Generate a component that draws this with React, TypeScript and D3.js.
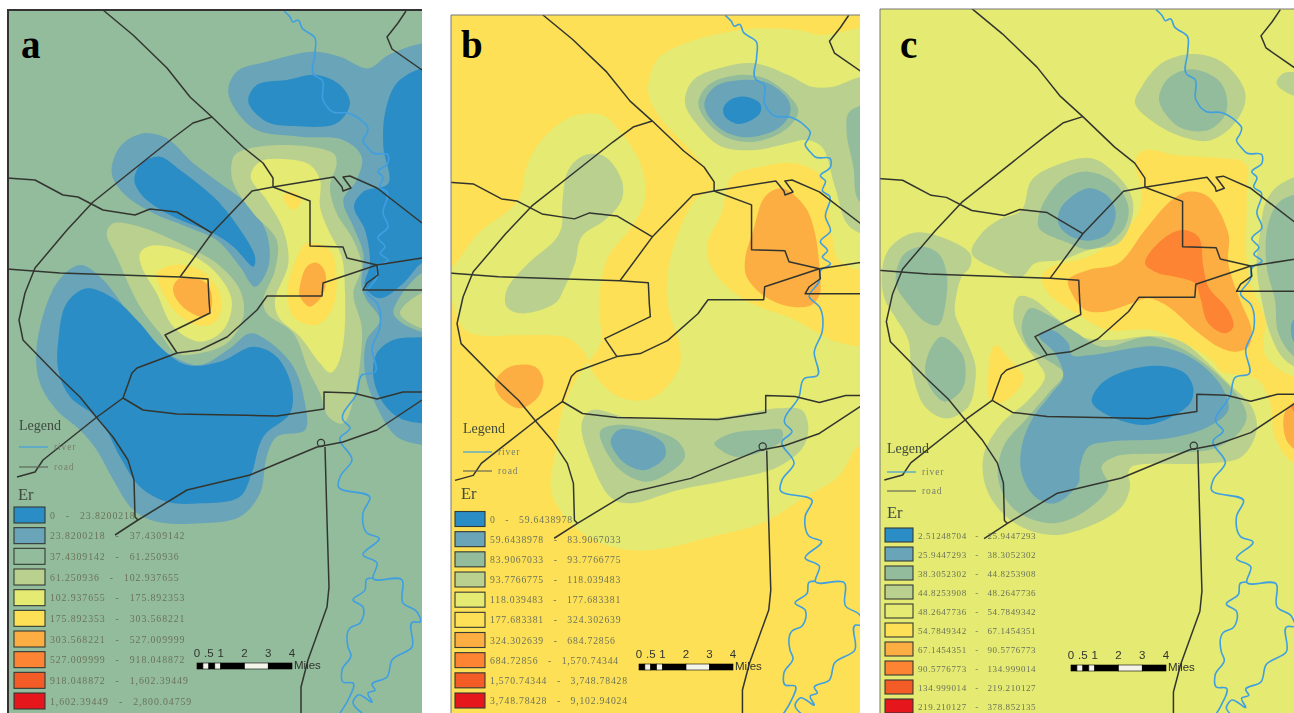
import * as d3 from "d3";

type Pt = [number, number];
type Region = [number, Pt[]];

const WIDTH = 1294;
const HEIGHT = 713;

const BAND_COLORS = ["#2a8dc6", "#69a4b9", "#93bc9d", "#bad08f", "#e4ea72", "#fde056", "#fcae42", "#fd8431", "#f35c26", "#e5121c"];
const SCALE_STOPS = [0, 0.25, 0.5, 0.75, 1, 2, 3, 4];
const SCALE_LABELS = [0, 0.5, 1, 2, 3, 4];

const labelsA = [
  ["0", "23.8200218"],
  ["23.8200218", "37.4309142"],
  ["37.4309142", "61.250936"],
  ["61.250936", "102.937655"],
  ["102.937655", "175.892353"],
  ["175.892353", "303.568221"],
  ["303.568221", "527.009999"],
  ["527.009999", "918.048872"],
  ["918.048872", "1,602.39449"],
  ["1,602.39449", "2,800.04759"],
];
const labelsB = [
  ["0", "59.6438978"],
  ["59.6438978", "83.9067033"],
  ["83.9067033", "93.7766775"],
  ["93.7766775", "118.039483"],
  ["118.039483", "177.683381"],
  ["177.683381", "324.302639"],
  ["324.302639", "684.72856"],
  ["684.72856", "1,570.74344"],
  ["1,570.74344", "3,748.78428"],
  ["3,748.78428", "9,102.94024"],
];
const labelsC = [
  ["2.51248704", "25.9447293"],
  ["25.9447293", "38.3052302"],
  ["38.3052302", "44.8253908"],
  ["44.8253908", "48.2647736"],
  ["48.2647736", "54.7849342"],
  ["54.7849342", "67.1454351"],
  ["67.1454351", "90.5776773"],
  ["90.5776773", "134.999014"],
  ["134.999014", "219.210127"],
  ["219.210127", "378.852135"],
];

// roads and river, in the units of the first panel
const roads: Pt[][] = [
  [[103, 10], [133, 35], [167, 68], [190, 97], [212, 117], [243, 147], [263, 163], [273, 178], [273, 187]],
  [[212, 117], [193, 123], [173, 138], [143, 162], [93, 202], [67, 230], [35, 268], [25, 293], [19, 320], [23, 340], [57, 375], [80, 397], [97, 418], [113, 437], [128, 460], [134, 480], [135, 517], [138, 520]],
  [[7, 178], [35, 180], [63, 195], [78, 197], [103, 210], [135, 215], [150, 209], [177, 212], [212, 233]],
  [[7, 269], [60, 273], [180, 277], [208, 279], [209, 300], [210, 313], [165, 335], [177, 353]],
  [[180, 277], [212, 233], [252, 191], [273, 187], [334, 177], [342, 187], [343, 191], [351, 188], [343, 177], [350, 176], [377, 188], [422, 223]],
  [[273, 187], [310, 201], [310, 246], [343, 247], [347, 258], [377, 265], [422, 258]],
  [[377, 265], [323, 283], [322, 296], [267, 296], [257, 310], [227, 337], [200, 350], [177, 353], [137, 368], [132, 373], [123, 398], [97, 417], [43, 460], [35, 472], [17, 477]],
  [[123, 398], [143, 410], [177, 414], [277, 416], [324, 409], [324, 392], [353, 393], [377, 399], [403, 392], [422, 392]],
  [[115, 535], [138, 520], [187, 490], [250, 475], [317, 447], [343, 442], [377, 430], [422, 400]],
  [[325, 447], [327, 520], [329, 587], [327, 607], [308, 660], [301, 687], [301, 713]],
  [[406, 11], [398, 23], [387, 37], [392, 49], [422, 70]],
  [[377, 265], [378, 275], [367, 283], [363, 290], [422, 290]],
];
const roundabout: Pt = [321, 443];

const river: Pt[][] = [
  [[284, 11], [290, 17], [293, 22], [298, 20], [302, 28], [315, 38], [315, 53], [314, 75], [322, 80], [323, 100], [333, 112], [348, 113], [363, 122], [368, 128], [366, 135], [363, 140], [368, 148], [373, 153], [388, 155], [388, 163], [378, 172], [383, 177], [380, 187], [387, 192], [383, 213], [388, 227], [378, 238], [385, 247], [380, 253], [388, 260], [378, 267], [377, 277], [367, 293], [377, 303], [380, 327], [372, 348], [375, 372], [362, 375], [357, 393], [343, 420], [350, 428], [340, 438], [352, 460], [340, 477], [338, 485], [370, 498], [363, 513], [367, 533], [379, 538], [363, 555], [377, 563], [373, 578], [402, 580], [403, 603], [417, 612], [420, 622], [413, 622], [412, 647], [392, 660], [387, 677], [372, 685], [375, 690], [368, 693], [372, 702], [358, 695], [353, 702], [362, 713]],
  [[373, 578], [367, 579], [365, 590], [353, 600], [363, 607], [360, 623], [350, 628], [348, 647], [351, 655], [342, 670], [343, 682], [353, 683], [348, 700], [340, 713]],
];

const regionsA: Region[] = [
  [1, [[685, 280], [710, 215], [800, 185], [940, 155], [1020, 170], [1105, 205], [1165, 165], [1265, 130], [1310, 125], [1310, 1345], [1265, 1335], [1190, 1310], [1130, 1220], [1095, 1120], [1100, 1020], [1140, 960], [1100, 900], [1085, 860], [1090, 760], [1060, 680], [1030, 600], [1070, 540], [1085, 470], [1030, 420], [900, 410], [760, 385]]],
  [2, [[1310, 820], [1265, 820], [1180, 935], [1200, 965], [1265, 995], [1310, 1000]]],
  [3, [[1310, 880], [1265, 880], [1200, 940], [1265, 985], [1310, 985]]],
  [1, [[335, 520], [360, 440], [430, 400], [500, 415], [580, 490], [660, 550], [750, 620], [800, 700], [805, 800], [765, 860], [720, 800], [650, 720], [560, 680], [460, 640], [370, 580]]],
  [1, [[110, 1040], [120, 1150], [170, 1230], [240, 1290], [290, 1350], [340, 1440], [400, 1530], [470, 1565], [600, 1570], [720, 1550], [780, 1480], [800, 1370], [830, 1310], [915, 1290], [915, 1210], [880, 1100], [800, 1020], [750, 1000], [690, 1045], [600, 1095], [520, 1070], [440, 1010], [380, 930], [300, 830], [240, 795], [170, 850]]],
  [0, [[745, 305], [770, 255], [860, 240], [950, 225], [1020, 255], [1050, 310], [1010, 370], [880, 378], [800, 365]]],
  [0, [[403, 540], [425, 490], [480, 470], [540, 510], [640, 590], [700, 660], [765, 770], [760, 800], [700, 740], [640, 700], [520, 650], [430, 590]]],
  [0, [[175, 1020], [200, 910], [260, 865], [340, 895], [420, 970], [480, 1040], [560, 1095], [660, 1085], [760, 1040], [830, 1070], [875, 1160], [870, 1240], [790, 1310], [755, 1420], [720, 1490], [600, 1510], [500, 1505], [420, 1460], [360, 1370], [300, 1260], [210, 1190], [175, 1110]]],
  [0, [[1310, 205], [1265, 205], [1190, 250], [1155, 340], [1150, 440], [1165, 550], [1090, 575], [1062, 620], [1095, 690], [1110, 790], [1095, 860], [1140, 895], [1210, 850], [1265, 790], [1310, 780]]],
  [0, [[1310, 1012], [1265, 1012], [1180, 1020], [1130, 1060], [1120, 1130], [1150, 1210], [1200, 1255], [1265, 1270], [1310, 1270]]],
  [3, [[320, 700], [340, 670], [420, 680], [560, 740], [650, 790], [720, 870], [730, 950], [680, 1030], [600, 1060], [530, 1060], [480, 1000], [420, 920], [350, 770]]],
  [3, [[695, 490], [710, 460], [840, 435], [1000, 460], [1010, 490], [990, 560], [1010, 640], [1060, 720], [1085, 800], [1060, 880], [1085, 980], [1080, 1090], [1065, 1180], [1030, 1270], [985, 1250], [960, 1180], [925, 1110], [880, 1000], [800, 940], [790, 900], [825, 810], [830, 720], [760, 640], [700, 550]]],
  [4, [[420, 760], [450, 738], [540, 750], [640, 810], [695, 900], [670, 990], [600, 1025], [520, 980], [470, 880], [425, 800]]],
  [4, [[752, 530], [780, 485], [860, 478], [930, 495], [960, 540], [960, 620], [985, 690], [1025, 770], [1035, 880], [1030, 1030], [1010, 1100], [990, 1118], [960, 1090], [900, 1010], [835, 950], [825, 900], [865, 790], [850, 690], [800, 600]]],
  [5, [[850, 590], [880, 575], [905, 600], [880, 630]]],
  [5, [[470, 820], [520, 795], [600, 810], [650, 860], [665, 920], [640, 970], [590, 975], [530, 940], [490, 880]]],
  [5, [[862, 870], [880, 800], [920, 730], [990, 750], [1010, 830], [995, 930], [950, 975], [880, 950]]],
  [6, [[520, 860], [540, 835], [620, 850], [635, 920], [610, 950], [560, 930], [525, 890]]],
  [6, [[898, 870], [920, 800], [950, 788], [975, 815], [970, 880], [930, 920], [900, 890]]],
];

const regionsB: Region[] = [
  [4, [[612, 240], [640, 175], [720, 130], [830, 100], [940, 85], [1060, 90], [1130, 105], [1245, 85], [1310, 85], [1310, 1335], [1245, 1335], [1180, 1430], [1080, 1490], [950, 1570], [800, 1610], [620, 1650], [500, 1640], [400, 1590], [320, 1480], [330, 1360], [360, 1210], [430, 1090], [445, 1120], [520, 1190], [620, 1195], [700, 1110], [705, 1040], [680, 960], [665, 880], [680, 760], [750, 600], [805, 560], [790, 520], [735, 450], [650, 360], [612, 290]]],
  [4, [[20, 800], [100, 700], [220, 600], [245, 500], [290, 420], [380, 350], [470, 345], [530, 400], [590, 500], [600, 600], [560, 680], [490, 770], [465, 870], [465, 960], [470, 1020], [430, 1080], [420, 1060], [370, 1015], [250, 1005], [100, 1005], [55, 985], [20, 900], [0, 860], [0, 800]]],
  [5, [[860, 530], [950, 500], [1050, 490], [1130, 530], [1150, 620], [1160, 700], [1180, 780], [1245, 810], [1310, 810], [1310, 1040], [1245, 1040], [1160, 1020], [1050, 960], [900, 900], [810, 820], [785, 740], [830, 640]]],
  [3, [[720, 310], [745, 240], [840, 200], [930, 190], [1030, 225], [1100, 260], [1165, 260], [1245, 232], [1310, 232], [1310, 720], [1245, 700], [1205, 670], [1170, 560], [1130, 440], [1080, 420], [1030, 430], [930, 450], [830, 440], [770, 390]]],
  [2, [[1310, 318], [1245, 318], [1210, 340], [1205, 400], [1225, 500], [1240, 600], [1310, 640]]],
  [2, [[760, 310], [790, 255], [880, 225], [960, 235], [1035, 290], [1060, 335], [1020, 390], [930, 425], [850, 415], [790, 370]]],
  [1, [[778, 310], [810, 260], [890, 240], [970, 250], [1030, 300], [1035, 340], [1000, 385], [910, 412], [840, 395], [795, 355]]],
  [0, [[835, 325], [855, 300], [900, 290], [945, 310], [945, 340], [885, 372], [840, 350]]],
  [3, [[352, 610], [370, 510], [420, 465], [480, 470], [530, 540], [530, 600], [480, 660], [410, 710], [390, 790], [360, 860], [330, 910], [230, 940], [185, 920], [185, 870], [250, 790], [330, 720], [350, 680]]],
  [6, [[960, 590], [1010, 565], [1080, 620], [1110, 700], [1125, 830], [1125, 880], [1100, 915], [1040, 920], [960, 890], [905, 830], [900, 780], [925, 690]]],
  [6, [[155, 1135], [195, 1100], [270, 1100], [295, 1140], [280, 1190], [225, 1225], [175, 1200], [150, 1160]]],
  [3, [[410, 1270], [440, 1230], [560, 1255], [800, 1255], [1000, 1225], [1070, 1230], [1090, 1280], [1075, 1340], [1000, 1400], [850, 1440], [700, 1470], [560, 1510], [500, 1495], [440, 1390]]],
  [2, [[465, 1295], [510, 1275], [620, 1290], [700, 1325], [720, 1370], [670, 1420], [600, 1445], [520, 1405]]],
  [1, [[497, 1325], [520, 1290], [590, 1295], [655, 1330], [660, 1370], [600, 1410], [540, 1390]]],
  [2, [[808, 1330], [860, 1300], [950, 1290], [1010, 1290], [1010, 1320], [950, 1355], [870, 1370], [820, 1345]]],
];

const regionsC: Region[] = [
  [3, [[780, 310], [800, 260], [860, 190], [950, 162], [1040, 185], [1105, 260], [1110, 310], [1070, 380], [1000, 422], [920, 410], [840, 370]]],
  [2, [[852, 295], [880, 235], [950, 208], [1030, 240], [1055, 290], [1050, 345], [1000, 390], [920, 385], [870, 340]]],
  [3, [[1205, 250], [1225, 220], [1260, 215], [1310, 210], [1310, 290], [1250, 285]]],
  [3, [[1310, 530], [1220, 550], [1175, 600], [1155, 700], [1145, 800], [1160, 900], [1185, 1000], [1230, 1080], [1310, 1110]]],
  [2, [[1310, 590], [1220, 600], [1180, 670], [1175, 800], [1200, 900], [1210, 1000], [1257, 1070], [1310, 1090]]],
  [1, [[1310, 950], [1255, 960], [1250, 1010], [1270, 1040], [1310, 1050]]],
  [5, [[780, 480], [810, 450], [900, 465], [1040, 475], [1110, 490], [1115, 600], [1115, 780], [1130, 860], [1170, 960], [1165, 1050], [1190, 1090], [1257, 1130], [1310, 1120], [1310, 1400], [1250, 1385], [1200, 1310], [1185, 1210], [1150, 1140], [1090, 1125], [1040, 1115], [1010, 1080], [920, 1025], [830, 990], [700, 990], [620, 950], [520, 880], [500, 830], [530, 800], [640, 770], [720, 720], [790, 640], [800, 570]]],
  [6, [[580, 840], [640, 810], [730, 790], [810, 690], [890, 600], [940, 575], [1000, 590], [1060, 700], [1060, 790], [1095, 900], [1130, 990], [1120, 1040], [1080, 1055], [1030, 1040], [960, 990], [880, 920], [820, 895], [770, 910], [690, 935], [630, 930], [590, 880]]],
  [7, [[810, 790], [860, 720], [920, 690], [970, 710], [985, 800], [1000, 860], [1060, 930], [1075, 980], [1050, 1000], [1000, 970], [975, 890], [960, 850], [900, 830], [850, 820]]],
  [6, [[1310, 1190], [1240, 1220], [1225, 1260], [1240, 1330], [1310, 1370]]],
  [7, [[1310, 1200], [1250, 1215], [1262, 1240], [1310, 1250]]],
  [3, [[290, 760], [320, 700], [370, 660], [440, 630], [470, 540], [560, 490], [650, 475], [720, 520], [770, 590], [770, 660], [730, 730], [640, 750], [560, 780], [480, 790], [440, 830], [370, 810]]],
  [2, [[490, 680], [500, 620], [560, 540], [640, 515], [720, 550], [760, 620], [750, 680], [700, 730], [640, 748], [570, 725], [510, 700]]],
  [1, [[550, 670], [560, 620], [640, 565], [700, 590], [722, 640], [700, 700], [640, 722], [580, 705]]],
  [3, [[20, 830], [40, 750], [110, 700], [180, 705], [285, 760], [285, 800], [260, 830], [245, 880], [240, 940], [260, 990], [300, 1090], [300, 1150], [280, 1220], [215, 1255], [150, 1220], [110, 1110], [100, 1020], [60, 950], [30, 900]]],
  [2, [[65, 810], [90, 760], [140, 740], [190, 760], [215, 820], [210, 920], [190, 975], [150, 965], [90, 900], [65, 860]]],
  [2, [[150, 1110], [170, 1040], [200, 1010], [260, 1060], [272, 1120], [260, 1170], [210, 1205], [170, 1170]]],
  [5, [[340, 1120], [350, 1050], [365, 1035], [400, 1075], [445, 1130], [420, 1180], [370, 1210], [340, 1190]]],
  [3, [[430, 890], [470, 895], [540, 950], [620, 1010], [710, 1020], [830, 1008], [920, 1025], [1000, 1090], [1060, 1150], [1130, 1220], [1145, 1290], [1100, 1370], [1000, 1390], [770, 1400], [760, 1420], [765, 1460], [740, 1520], [640, 1580], [530, 1605], [420, 1570], [340, 1480], [325, 1370], [380, 1270], [460, 1200], [510, 1130], [490, 1090], [440, 1020], [415, 955]]],
  [2, [[440, 980], [465, 925], [520, 945], [600, 995], [680, 1040], [820, 1010], [900, 1035], [1000, 1100], [1090, 1190], [1115, 1250], [1090, 1300], [1020, 1345], [880, 1360], [720, 1370], [680, 1400], [700, 1460], [620, 1540], [530, 1570], [420, 1530], [370, 1440], [385, 1340], [460, 1250], [520, 1180], [565, 1120], [500, 1070], [460, 1040]]],
  [1, [[490, 1005], [530, 990], [580, 1030], [590, 1065], [650, 1065], [850, 1040], [960, 1080], [1040, 1160], [1060, 1230], [1000, 1280], [880, 1315], [700, 1325], [640, 1340], [615, 1400], [610, 1450], [540, 1510], [480, 1490], [440, 1420], [440, 1340], [470, 1260], [530, 1180], [565, 1130], [540, 1060]]],
  [0, [[650, 1200], [680, 1150], [760, 1110], [860, 1098], [930, 1120], [955, 1165], [945, 1210], [870, 1260], [800, 1275], [720, 1255], [660, 1220]]],
];

const area = d3.line().curve(d3.curveCatmullRomClosed.alpha(0.5));
const riverLine = d3.line().curve(d3.curveCatmullRom.alpha(1));
const roadLine = d3.line();

const Panel = ({ id, letter, frame, originX, mapX, mapY, regions, background, labels, legend, bar }: any) => {
  const gridX = d3.scaleLinear().domain([0, 1290]).range([originX, originX + 430]);
  const gridY = d3.scaleLinear().domain([0, 1290]).range([0, 430]);
  const x = d3.scaleLinear().domain([0, 422]).range(mapX);
  const y = d3.scaleLinear().domain([0, 713]).range(mapY);
  const rows = d3.scaleLinear().domain([0, 9]).range([legend.rowTop, legend.rowBottom]);
  const miles = d3.scaleLinear().domain([0, 4]).range([bar.x0, bar.x1]);
  const [fx, fy, fw, fh] = frame;

  return (
    <g>
      <clipPath id={id}>
        <rect x={fx} y={fy} width={fw} height={fh} />
      </clipPath>
      <g clipPath={`url(#${id})`} filter="url(#soft)">
        <rect x={fx} y={fy} width={fw} height={fh} fill={background} />
        {regions.map(([band, pts]: Region, i: number) => (
          <path key={i} d={area(pts.map(([a, b]) => [gridX(a), gridY(b)]) as Pt[]) as string} fill={BAND_COLORS[band]} />
        ))}
        {river.map((r, i) => (
          <path key={i} d={riverLine(r.map(([a, b]) => [x(a), y(b)]) as Pt[]) as string} fill="none" stroke="#3f9fe0" strokeWidth={1.6} strokeLinejoin="round" />
        ))}
        {roads.map((r, i) => (
          <path key={i} d={roadLine(r.map(([a, b]) => [x(a), y(b)]) as Pt[]) as string} fill="none" stroke="#33362f" strokeWidth={1.5} strokeLinejoin="round" />
        ))}
        <circle cx={x(roundabout[0])} cy={y(roundabout[1])} r={3.6} fill="none" stroke="#33362f" strokeWidth={1.2} />
      </g>
      <path d={`M${fx},${fy + fh}V${fy}H${fx + fw}`} fill="none" stroke={letter === "a" ? "#333" : "#777"} strokeWidth={letter === "a" ? 2 : 1} />

      <text x={fx + legend.letterDx} y={58} fontFamily="'Liberation Serif'" fontWeight="bold" fontSize={39} fill="#000">
        {letter}
      </text>

      <g fontFamily="'Liberation Serif'" filter="url(#softText)">
        <text x={legend.x} y={legend.titleY} fontSize={14} fill="#3f4a3c">Legend</text>
        <line x1={legend.x} x2={legend.x + 29} y1={legend.riverY} y2={legend.riverY} stroke="#3f9fe0" strokeWidth={1.2} />
        <text x={legend.x + 35} y={legend.riverY + 3} fontSize={9.5} letterSpacing={0.9} fill="#777f6a">river</text>
        <line x1={legend.x} x2={legend.x + 29} y1={legend.roadY} y2={legend.roadY} stroke="#5a5f55" strokeWidth={1.1} />
        <text x={legend.x + 35} y={legend.roadY + 3} fontSize={9.5} letterSpacing={0.9} fill="#777f6a">road</text>
        <text x={legend.erX} y={legend.erY} fontSize={16.5} fill="#3f4a3c">Er</text>
        {labels.map(([lo, hi]: string[], i: number) => (
          <g key={i}>
            <rect x={legend.swatchX} y={rows(i)} width={legend.swatchW} height={legend.swatchH} fill={BAND_COLORS[i]} stroke="#333a35" strokeWidth={1.1} />
            <text x={legend.textX} y={rows(i) + legend.swatchH / 2 + 3.5} fontSize={legend.fontSize} letterSpacing={legend.spacing} fill="#6a7259" style={{ whiteSpace: "pre" }}>
              {`${lo}   -   ${hi}`}
            </text>
          </g>
        ))}
      </g>

      <g fontFamily="'Liberation Sans'" fontSize={11.5} fill="#30342e" filter="url(#softText)">
        {SCALE_STOPS.slice(1).map((stop, i) => (
          <rect key={stop} x={miles(SCALE_STOPS[i])} y={bar.y} width={miles(stop) - miles(SCALE_STOPS[i])} height={6} fill={i % 2 ? "#f4f4ea" : "#000"} stroke="#000" strokeWidth={0.6} />
        ))}
        {SCALE_LABELS.map((v) => (
          <text key={v} x={miles(v)} y={bar.y - 6} textAnchor="middle">
            {v === 0.5 ? ".5" : v}
          </text>
        ))}
        <text x={bar.x1 + 2} y={bar.y + 6}>Miles</text>
      </g>
    </g>
  );
};

export default function App() {
  return (
    <svg width={WIDTH} height={HEIGHT} viewBox={`0 0 ${WIDTH} ${HEIGHT}`} style={{ position: "absolute", left: 0, top: 0, background: "#fff" }}>
      <defs>
        <filter id="soft" x="0" y="0" width="1" height="1">
          <feGaussianBlur stdDeviation="0.55" />
        </filter>
        <filter id="softText" x="-5%" y="-5%" width="110%" height="110%">
          <feGaussianBlur stdDeviation="0.3" />
        </filter>
      </defs>
      <Panel
        id="clip-a"
        letter="a"
        frame={[8, 10, 414, 703]}
        originX={0}
        mapX={[0, 422]}
        mapY={[0, 713]}
        regions={regionsA}
        background={BAND_COLORS[2]}
        labels={labelsA}
        legend={{ x: 19, titleY: 430, riverY: 447, roadY: 467, erX: 18, erY: 500, swatchX: 14, swatchW: 31, swatchH: 16, rowTop: 507, rowBottom: 693, textX: 50, fontSize: 9.8, spacing: 0.9, letterDx: 13 }}
        bar={{ x0: 197, x1: 292, y: 663 }}
      />
      <Panel
        id="clip-b"
        letter="b"
        frame={[451, 15, 409, 698]}
        originX={445}
        mapX={[437.8, 864.9]}
        mapY={[4.3, 715.9]}
        regions={regionsB}
        background={BAND_COLORS[5]}
        labels={labelsB}
        legend={{ x: 463, titleY: 433, riverY: 452, roadY: 471, erX: 461, erY: 499, swatchX: 455, swatchW: 30, swatchH: 15, rowTop: 511.5, rowBottom: 693, textX: 490, fontSize: 9.7, spacing: 0.8, letterDx: 10 }}
        bar={{ x0: 639, x1: 733, y: 664 }}
      />
      <Panel
        id="clip-c"
        letter="c"
        frame={[880, 9, 414, 704]}
        originX={875}
        mapX={[867, 1296.6]}
        mapY={[-1.5, 718.3]}
        regions={regionsC}
        background={BAND_COLORS[4]}
        labels={labelsC}
        legend={{ x: 887, titleY: 453, riverY: 472, roadY: 491, erX: 887, erY: 518, swatchX: 885, swatchW: 28, swatchH: 14, rowTop: 528, rowBottom: 699, textX: 918, fontSize: 9, spacing: 0.6, letterDx: 20 }}
        bar={{ x0: 1071, x1: 1166, y: 665 }}
      />
    </svg>
  );
}
